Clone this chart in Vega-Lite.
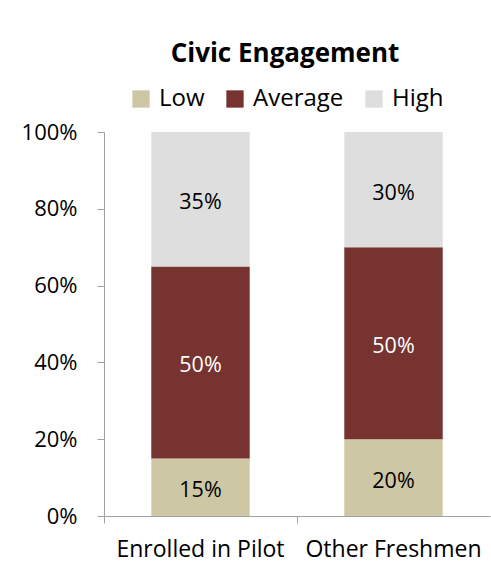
{
  "$schema": "https://vega.github.io/schema/vega-lite/v6.json",
  "autosize": "none",
  "width": 386,
  "height": 384,
  "padding": {"left": 104, "top": 132, "right": 1, "bottom": 64},
  "background": "white",
  "config": {
    "font": "Open Sans",
    "view": {"stroke": null}
  },
  "title": {
    "text": "Civic Engagement",
    "font": "Open Sans",
    "fontSize": 26,
    "fontWeight": "bold",
    "color": "black",
    "anchor": "middle",
    "dx": -12,
    "offset": 20
  },
  "data": {
    "values": [
      {"group": "Enrolled in Pilot", "level": "Low", "k": 1, "v": 0.15},
      {"group": "Enrolled in Pilot", "level": "Average", "k": 2, "v": 0.50},
      {"group": "Enrolled in Pilot", "level": "High", "k": 3, "v": 0.35},
      {"group": "Other Freshmen", "level": "Low", "k": 1, "v": 0.20},
      {"group": "Other Freshmen", "level": "Average", "k": 2, "v": 0.50},
      {"group": "Other Freshmen", "level": "High", "k": 3, "v": 0.30}
    ]
  },
  "encoding": {
    "x": {
      "field": "group",
      "type": "nominal",
      "scale": {"paddingInner": 0, "paddingOuter": 0},
      "axis": {
        "title": null,
        "labelAngle": 0,
        "labelFont": "Open Sans",
        "labelFontSize": 23,
        "labelColor": "black",
        "labelPadding": 15,
        "bandPosition": 0,
        "domainColor": "#a0a0a0",
        "tickColor": "#a0a0a0",
        "tickSize": 7
      }
    }
  },
  "layer": [
    {
      "mark": {"type": "bar", "width": {"band": 0.51}},
      "encoding": {
        "y": {
          "field": "v",
          "type": "quantitative",
          "stack": "zero",
          "scale": {"domain": [0, 1]},
          "axis": {
            "title": null,
            "values": [0, 0.2, 0.4, 0.6, 0.8, 1],
            "format": ".0%",
            "grid": false,
            "labelFont": "Open Sans",
            "labelFontSize": 22,
            "labelColor": "black",
            "labelPadding": 20,
            "domainColor": "#a0a0a0",
            "tickColor": "#a0a0a0",
            "tickSize": 7
          }
        },
        "color": {
          "field": "level",
          "type": "nominal",
          "scale": {
            "domain": ["Low", "Average", "High"],
            "range": ["#cec7a5", "#773330", "#dedede"]
          },
          "legend": {
            "title": null,
            "orient": "none",
            "direction": "horizontal",
            "legendX": 25,
            "legendY": -45,
            "symbolType": "square",
            "symbolSize": 300,
            "symbolStrokeWidth": 0,
            "labelFont": "Open Sans",
            "labelFontSize": 24,
            "labelColor": "black",
            "labelOffset": 6,
            "columnPadding": 18
          }
        },
        "order": {"field": "k", "type": "quantitative"}
      }
    },
    {
      "mark": {"type": "text", "font": "Open Sans", "fontSize": 21.5, "baseline": "middle", "dy": 4},
      "encoding": {
        "y": {"field": "v", "type": "quantitative", "stack": "zero", "bandPosition": 0.5},
        "order": {"field": "k", "type": "quantitative"},
        "text": {"field": "v", "type": "quantitative", "format": ".0%"},
        "color": {
          "condition": {"test": "datum.level === 'Average'", "value": "white"},
          "value": "black"
        }
      }
    }
  ]
}
